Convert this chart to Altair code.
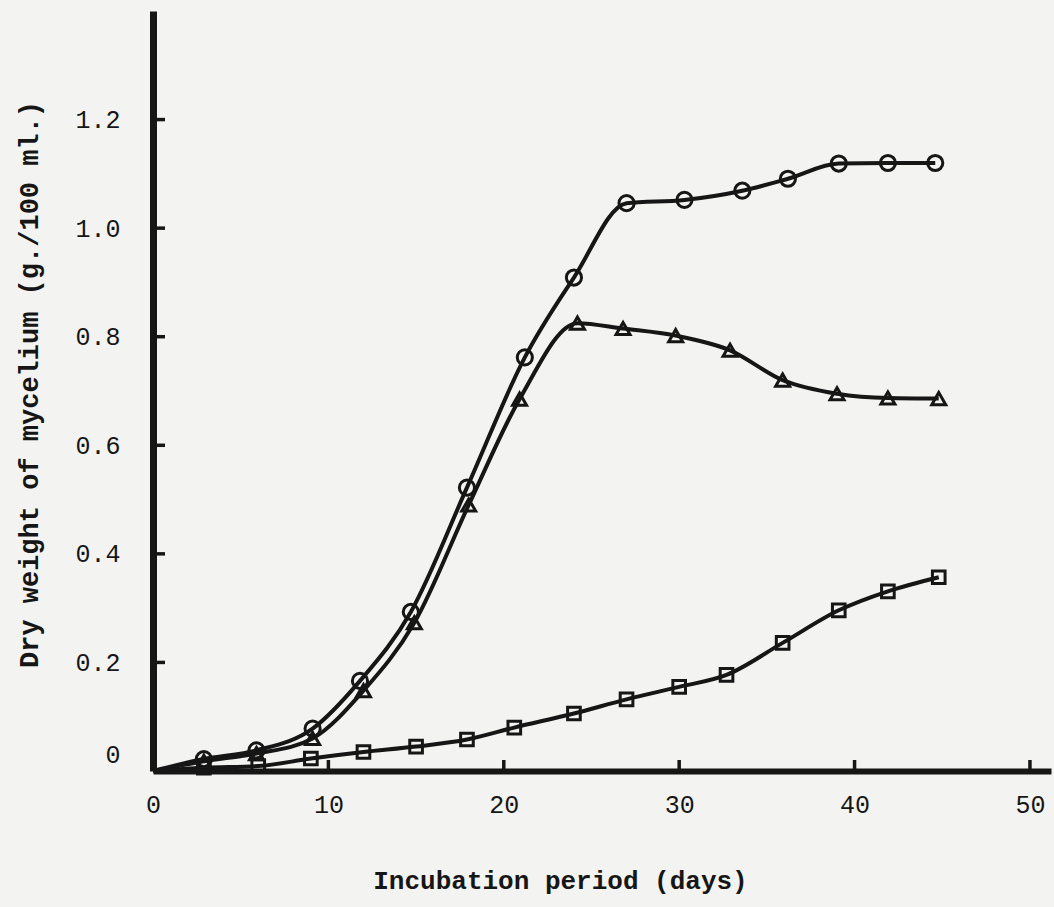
import altair as alt
import pandas as pd

# Incubation day (x) and dry weight of mycelium in g/100 ml (y) for each culture series
circle_days = [0, 2.9, 5.9, 9.1, 11.8, 14.7, 17.9, 21.2, 24.0, 27.0, 30.3, 33.6, 36.2, 39.1, 41.9, 44.6]
circle_wt = [0, 0.022, 0.038, 0.078, 0.166, 0.293, 0.522, 0.762, 0.909, 1.046, 1.052, 1.069, 1.091, 1.119, 1.120, 1.120]

triangle_days = [0, 2.9, 5.9, 9.1, 12.0, 14.9, 18.0, 20.9, 24.2, 26.8, 29.8, 32.9, 35.9, 39.0, 41.9, 44.8]
triangle_wt = [0, 0.018, 0.032, 0.060, 0.148, 0.273, 0.490, 0.685, 0.825, 0.815, 0.802, 0.775, 0.720, 0.695, 0.687, 0.686]

square_days = [0, 2.9, 6.0, 9.0, 12.0, 15.0, 17.9, 20.6, 24.0, 27.0, 30.0, 32.7, 35.9, 39.1, 41.9, 44.8]
square_wt = [0, 0.006, 0.009, 0.023, 0.035, 0.045, 0.058, 0.080, 0.106, 0.132, 0.155, 0.177, 0.236, 0.296, 0.331, 0.357]

x_ticks = [0, 10, 20, 30, 40, 50]
y_ticks = [0, 0.2, 0.4, 0.6, 0.8, 1.0, 1.2]

rows = []
for name, xs, ys in [("circle", circle_days, circle_wt),
                     ("triangle", triangle_days, triangle_wt),
                     ("square", square_days, square_wt)]:
    for i, (x, y) in enumerate(zip(xs, ys)):
        rows.append({"series": name, "day": x, "weight": y, "order": i})
df = pd.DataFrame(rows)

INK = "#161616"
FONT = "Liberation Mono"

x_scale = alt.Scale(domain=[0, 51.2], nice=False, zero=False)
y_scale = alt.Scale(domain=[0, 1.4], nice=False)

x_enc = alt.X(
    "day:Q", scale=x_scale,
    axis=alt.Axis(
        values=x_ticks, format="d", ticks=False, grid=False, labelFlush=False,
        labelFont=FONT, labelFontSize=25, labelColor=INK, labelPadding=21,
        domainColor=INK, domainWidth=6,
        title="Incubation period (days)", titleFont=FONT, titleFontSize=26,
        titleFontWeight="bold", titleColor=INK, titleX=407, titleY=117,
        titleAlign="center", titleBaseline="alphabetic",
    ),
)
y_enc = alt.Y(
    "weight:Q", scale=y_scale,
    axis=alt.Axis(
        values=y_ticks, ticks=False, grid=False,
        labelExpr="datum.value == 0 ? '0' : format(datum.value, '.1f')",
        labelFont=FONT, labelFontSize=25, labelColor=INK, labelPadding=33,
        labelOffset={"condition": {"test": "datum.value == 0", "value": -17}, "value": 0},
        domainColor=INK, domainWidth=7,
        title="Dry weight of mycelium (g./100 ml.)", titleFont=FONT, titleFontSize=27,
        titleFontWeight="bold", titleColor=INK, titleAngle=270, titleX=-116, titleY=373,
        titleAlign="center", titleBaseline="alphabetic",
    ),
)

base = alt.Chart(df)

lines = base.mark_line(color=INK, strokeWidth=4, interpolate="monotone").encode(
    x=x_enc, y=y_enc, detail="series:N", order="order:Q"
)

markers = base.transform_filter("datum.day > 0").mark_point(
    filled=False, color=INK, strokeWidth=3, opacity=1
).encode(
    x="day:Q", y="weight:Q",
    shape=alt.Shape("series:N", scale=alt.Scale(
        domain=["circle", "triangle", "square"],
        range=["circle", "triangle-up", "square"]), legend=None),
    size=alt.Size("series:N", scale=alt.Scale(
        domain=["circle", "triangle", "square"], range=[230, 160, 190]), legend=None),
)

# inward tick marks along both axes
xt = pd.DataFrame({"t": x_ticks[1:]})
yt = pd.DataFrame({"t": y_ticks[1:]})
x_tick_marks = alt.Chart(xt).mark_rule(color=INK, strokeWidth=3.5).encode(
    x=alt.X("t:Q", scale=x_scale), y=alt.value(760), y2=alt.value(749)
)
y_tick_marks = alt.Chart(yt).mark_rule(color=INK, strokeWidth=3.5).encode(
    y=alt.Y("t:Q", scale=y_scale), x=alt.value(0), x2=alt.value(12)
)

chart = alt.layer(lines, markers, x_tick_marks, y_tick_marks).properties(
    width=898, height=760,
    autosize=alt.AutoSizeParams(type="none"),
    padding={"left": 153, "top": 11, "right": 3, "bottom": 136},
    background="#f3f3f1",
).configure_view(stroke=None)

chart.save("out.html", embed_options={"renderer": "svg", "actions": False})
